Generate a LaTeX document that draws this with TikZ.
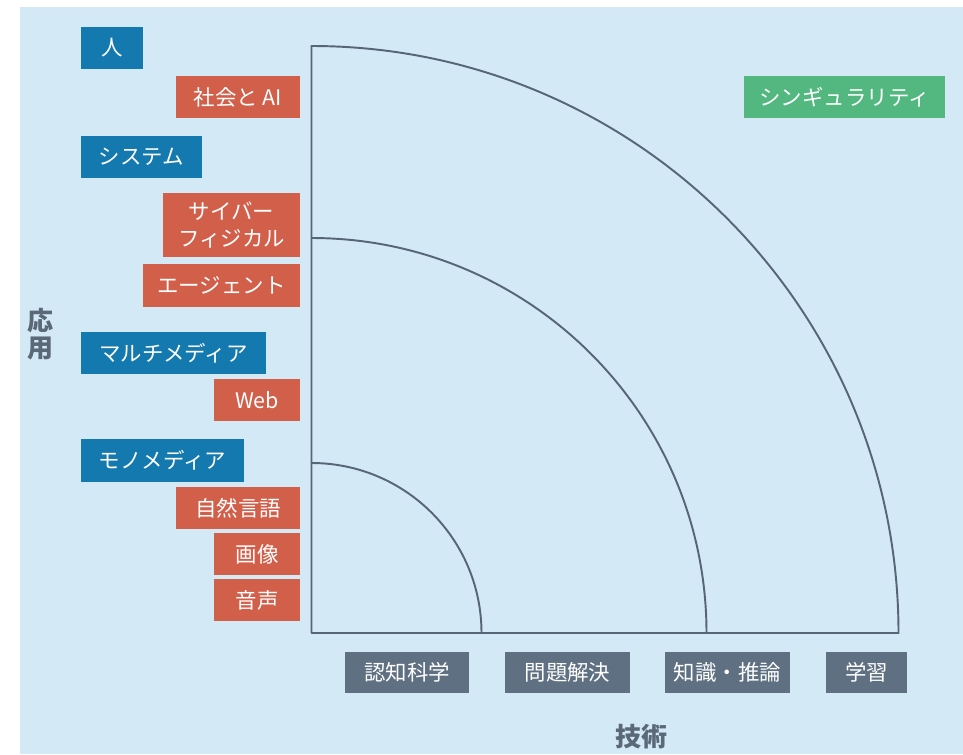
\documentclass[tikz,border=0pt]{standalone}
\usepackage{fontspec}
\setmainfont{Noto Sans CJK JP}
\definecolor{bgblue}{HTML}{D3E9F6}
\definecolor{appblue}{HTML}{1479AF}
\definecolor{subred}{HTML}{D15F4A}
\definecolor{futgreen}{HTML}{52B87F}
\definecolor{techgray}{HTML}{5E7082}
\definecolor{linegray}{HTML}{566676}
\definecolor{axisgray}{HTML}{5A6878}
\begin{document}
\begin{tikzpicture}[x=0.02cm, y=-0.02cm, line cap=round, line join=round, font=\fontsize{12.2}{15}\selectfont]
	\tikzset{box/.style={text=white, inner sep=0pt, align=center},
		wh/.style 2 args={minimum width=#1*0.02cm, minimum height=#2*0.02cm},
		appbox/.style={box, fill=appblue},
		subbox/.style={box, fill=subred},
		techbox/.style={box, fill=techgray},
		futbox/.style={box, fill=futgreen},
		axislabel/.style={text=axisgray, align=center, font=\fontsize{14.8}{15.5}\selectfont\bfseries}}
	\useasboundingbox (0,0) rectangle (963,754);
	\fill[bgblue] (20,7) rectangle (963,754);
	% quarter circles
	\coordinate (O) at (311.5,633);
	\draw[linegray, line width=1.1pt] (O) ++(587,0) arc[start angle=0, end angle=-90, radius=587] -- (O) -- cycle;
	\draw[linegray, line width=1.1pt] (O) ++(395,0) arc[start angle=0, end angle=-90, radius=395];
	\draw[linegray, line width=1.1pt] (O) ++(170,0) arc[start angle=0, end angle=-90, radius=170];
	% applications
	\node[appbox, wh={62}{42}] (hito) at (112,48) {人};
	\node[subbox, wh={124}{42}] (shakai) at (238,97) {社会と AI};
	\node[appbox, wh={121}{42}] (system) at (141.5,157) {システム};
	\node[subbox, wh={137}{64}] (cyber) at (231.5,225) {サイバー\\フィジカル};
	\node[subbox, wh={157}{43}] (agent) at (221.5,285.5) {エージェント};
	\node[appbox, wh={185}{42}] (multi) at (173.5,353) {マルチメディア};
	\node[subbox, wh={86}{42}] (web) at (257,400) {Web};
	\node[appbox, wh={163}{43}] (mono) at (162.5,460.5) {モノメディア};
	\node[subbox, wh={124}{42}] (gengo) at (238,508) {自然言語};
	\node[subbox, wh={86}{42}] (gazo) at (257,554) {画像};
	\node[subbox, wh={86}{42}] (onsei) at (257,600) {音声};
	\node[futbox, wh={201}{42}] (sing) at (844.5,97) {シンギュラリティ};
	% technologies
	\node[techbox, wh={124}{41}] (ninchi) at (407,672.5) {認知科学};
	\node[techbox, wh={125}{41}] (mondai) at (567.5,672.5) {問題解決};
	\node[techbox, wh={125}{41}] (chishiki) at (727.5,672.5) {知識・推論};
	\node[techbox, wh={81}{41}] (gakushu) at (866.5,672.5) {学習};
	\node[axislabel] (oyo) at (41,334) {応\\用};
	\node[axislabel] (gijutsu) at (641,737) {技術};
\end{tikzpicture}
\end{document}
